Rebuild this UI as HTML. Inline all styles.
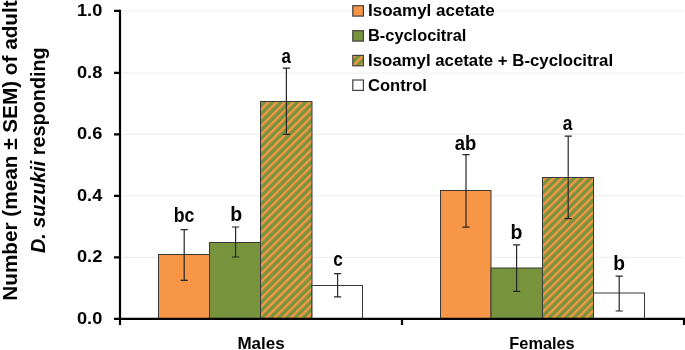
<!DOCTYPE html>
<html><head><meta charset="utf-8">
<style>
html,body{margin:0;padding:0;background:#fff;width:685px;height:350px;overflow:hidden}
svg{display:block;will-change:transform}
text{font-family:"Liberation Sans",sans-serif;font-weight:bold;fill:#000}
</style></head>
<body>
<svg width="685" height="350" viewBox="0 0 685 350">
<defs>
<pattern id="hatch" patternUnits="userSpaceOnUse" width="5.8" height="5.8" patternTransform="rotate(45)">
<rect width="5.8" height="5.8" fill="#77933C"/>
<rect width="2.4" height="5.8" fill="#F79646"/>
</pattern>
<pattern id="hatchL" patternUnits="userSpaceOnUse" width="5.8" height="5.8" patternTransform="rotate(45) translate(-0.8,0)">
<rect width="5.8" height="5.8" fill="#77933C"/>
<rect width="2.4" height="5.8" fill="#F79646"/>
</pattern>
</defs>
<!-- gridlines -->
<g stroke="#ececec" stroke-width="1">
<line x1="122" y1="11" x2="684" y2="11"/>
<line x1="122" y1="73" x2="684" y2="73"/>
<line x1="122" y1="134.3" x2="684" y2="134.3"/>
<line x1="122" y1="195.8" x2="684" y2="195.8"/>
<line x1="122" y1="257.3" x2="684" y2="257.3"/>
</g>
<!-- bars males -->
<g stroke="#383838" stroke-width="1">
<rect x="158.5" y="254.5" width="51" height="64" fill="#F79646"/>
<rect x="209.5" y="242.5" width="51" height="76" fill="#77933C"/>
<rect x="260.5" y="101.5" width="51.5" height="217" fill="url(#hatch)"/>
<rect x="312" y="285.5" width="50.5" height="33" fill="#fff"/>
<rect x="440.5" y="190.5" width="50.5" height="128" fill="#F79646"/>
<rect x="491" y="268" width="51.5" height="50.5" fill="#77933C"/>
<rect x="542.5" y="177.5" width="51" height="141" fill="url(#hatch)"/>
<rect x="593.5" y="293" width="51" height="25.5" fill="#fff"/>
</g>
<!-- error bars -->
<g stroke="#262626" stroke-width="1.2">
<path d="M184.2 229.7V280.3M180.6 229.7h7.2M180.6 280.3h7.2"/>
<path d="M235.6 227.0V257M232.0 227.0h7.2M232.0 257h7.2"/>
<path d="M286.4 68.1V134.3M282.8 68.1h7.2M282.8 134.3h7.2"/>
<path d="M337.6 273.7V296.9M334.0 273.7h7.2M334.0 296.9h7.2"/>
<path d="M466 154.7V227.1M462.4 154.7h7.2M462.4 227.1h7.2"/>
<path d="M516.6 244.9V291.4M513.0 244.9h7.2M513.0 291.4h7.2"/>
<path d="M568.2 136.2V218.6M564.6 136.2h7.2M564.6 218.6h7.2"/>
<path d="M619.2 276.2V311M615.6 276.2h7.2M615.6 311h7.2"/>
</g>
<!-- axes -->
<g stroke="#000" stroke-width="2.2" fill="none">
<path d="M120 9.8V325"/>
<path d="M114 10.9H120M114 72.8H120M114 134.3H120M114 195.8H120M114 257.3H120"/>
<path d="M114 318.8H684V325"/>
<path d="M402 318.8V325"/>
</g>
<!-- y tick labels -->
<g font-size="17.2" text-anchor="end">
<text transform="translate(102.3,15.9) scale(1.06,1)">1.0</text>
<text transform="translate(102.3,77.5) scale(1.06,1)">0.8</text>
<text transform="translate(102.3,139.1) scale(1.06,1)">0.6</text>
<text transform="translate(102.3,200.7) scale(1.06,1)">0.4</text>
<text transform="translate(102.3,262.3) scale(1.06,1)">0.2</text>
<text transform="translate(102.3,323.9) scale(1.06,1)">0.0</text>
</g>
<!-- x labels -->
<g font-size="17" text-anchor="middle">
<text x="261" y="348.6">Males</text>
<text transform="translate(542,348.6) scale(0.96,1)">Females</text>
</g>
<!-- significance letters -->
<g font-size="19.5" text-anchor="middle">
<text transform="translate(184,221.7) scale(0.91,1)">bc</text>
<text transform="translate(236.2,220.9) scale(1.0,1)">b</text>
<text transform="translate(286.2,63.3) scale(0.87,1)">a</text>
<text transform="translate(338,265.5) scale(0.88,1)">c</text>
<text transform="translate(465.6,149.5) scale(0.946,1)">ab</text>
<text transform="translate(516.4,238.6) scale(1.0,1)">b</text>
<text transform="translate(567.5,130.4) scale(0.89,1)">a</text>
<text transform="translate(619.2,270) scale(0.985,1)">b</text>
</g>
<!-- legend -->
<g stroke="#404040" stroke-width="1.2">
<rect x="352.8" y="5.7" width="10.6" height="10.4" fill="#F79646"/>
<rect x="352.8" y="30.7" width="10.6" height="10.4" fill="#77933C"/>
<rect x="352.8" y="55.4" width="10.6" height="10.4" fill="url(#hatchL)"/>
<rect x="352.8" y="80" width="10.6" height="10.4" fill="#fff"/>
</g>
<g font-size="17">
<text transform="translate(368,15.7)">Isoamyl acetate</text>
<text transform="translate(368,40.8) scale(0.964,1)">B-cyclocitral</text>
<text transform="translate(368,65.9) scale(0.989,1)">Isoamyl acetate + B-cyclocitral</text>
<text transform="translate(368,90.6) scale(0.976,1)">Control</text>
</g>
<!-- y axis title -->
<g font-size="21" text-anchor="middle">
<text transform="translate(16.5,150.5) rotate(-90) scale(0.987,1)">Number (mean ± SEM) of adult</text>
<text transform="translate(45,150.2) rotate(-90) scale(0.944,1)"><tspan font-style="italic">D. suzukii</tspan> responding</text>
</g>
</svg>
</body></html>
